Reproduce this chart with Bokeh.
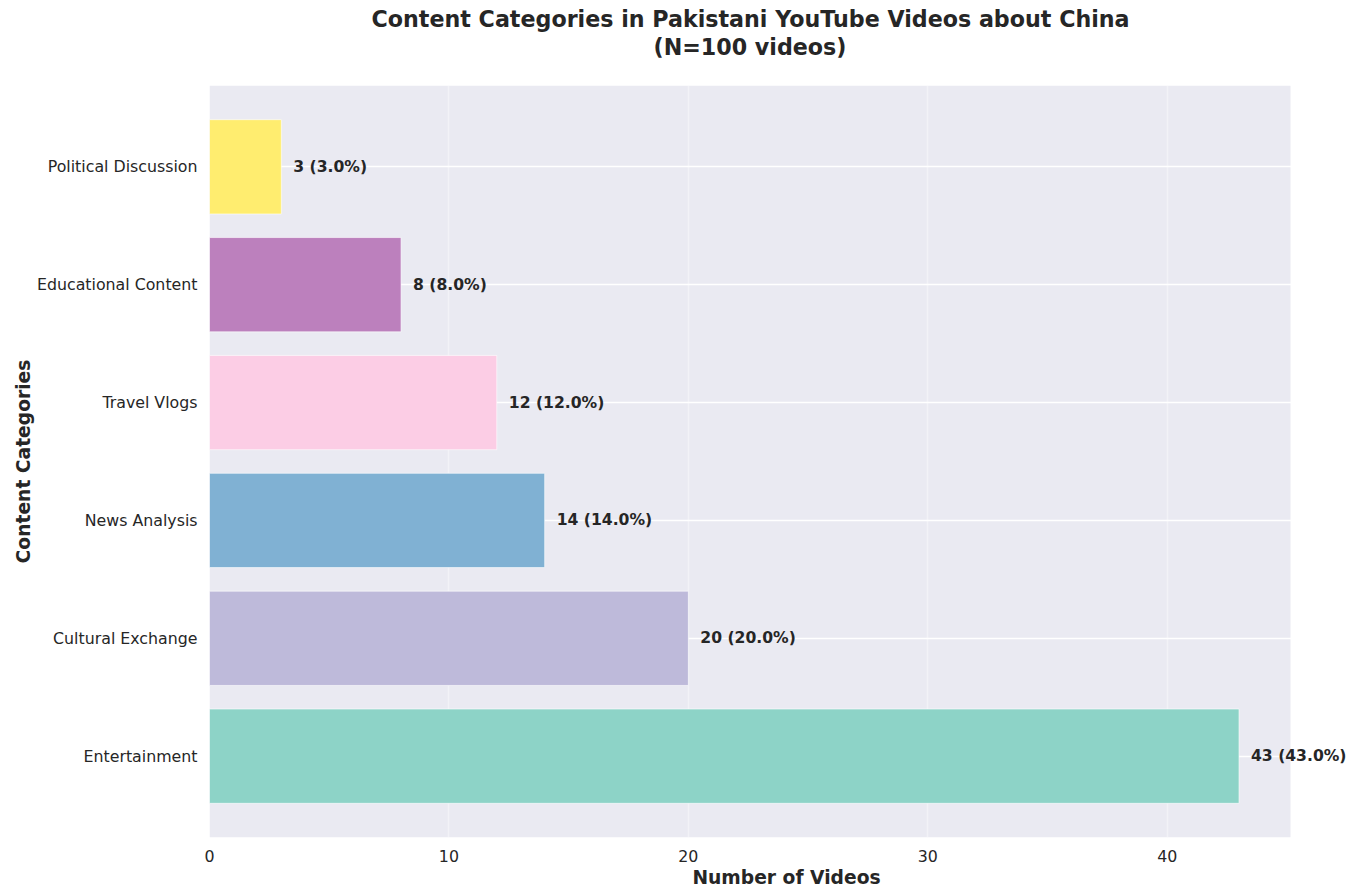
from bokeh.plotting import figure
from bokeh.models import (Range1d, FixedTicker, ColumnDataSource, LabelSet, Title,
                          BoxAnnotation)
from bokeh.embed import file_html
from bokeh.resources import INLINE
from bokeh.core.properties import value

categories = ["Entertainment", "Cultural Exchange", "News Analysis",
              "Travel Vlogs", "Educational Content", "Political Discussion"]
counts = [43, 20, 14, 12, 8, 3]
total_videos = 100
colors = ["#8dd3c7", "#bebada", "#80b1d3", "#fccde5", "#bc80bd", "#ffed6f"]
x_ticks = [0, 10, 20, 30, 40]
title_line1 = "Content Categories in Pakistani YouTube Videos about China"
title_line2 = "(N=100 videos)"

positions = list(range(len(categories)))
labels = [f"{c} ({c / total_videos * 100:.1f}%)" for c in counts]

src = ColumnDataSource(dict(y=positions, right=counts, color=colors, label=labels))

FONT = "DejaVu Sans"
DARK = "#262626"
BG = "#EAEAF2"

W, H = 1363, 890
LEFT, TOP, BOTTOM = 209, 85, 52
AXES_W = 1081                     # width of the shaded axes area
x_max = max(counts) * 1.05        # data limit of the shaded axes area
x_end = x_max * (W - LEFT) / AXES_W   # frame extends to the right so labels are not clipped

p = figure(width=W, height=H,
           x_range=Range1d(0, x_end),
           y_range=Range1d(-0.69, len(categories) - 1 + 0.69),
           output_backend="svg", toolbar_location=None,
           min_border_left=LEFT, min_border_right=0,
           min_border_top=TOP, min_border_bottom=BOTTOM,
           background_fill_color="white", border_fill_color="white",
           outline_line_color=None)

# shaded axes background limited to [0, x_max]
p.add_layout(BoxAnnotation(left=0, right=x_max, fill_color=BG, fill_alpha=1.0,
                           line_color=None, level="image"))

# first title line (outermost)
p.title.text = title_line1
p.title.align = "left"
p.title.offset = 162
p.title.text_font = FONT
p.title.text_font_size = "22.2px"
p.title.text_font_style = "bold"
p.title.text_color = DARK
p.title.standoff = 0

# second title line (closest to the plot)
t2 = Title(text=title_line2, align="left", offset=444, text_font=FONT,
           text_font_size="22.2px", text_font_style="bold", text_color=DARK,
           standoff=0)
try:
    t2.padding = dict(left=0, right=0, top=0, bottom=26)
except Exception:
    t2.standoff = 26
p.add_layout(t2, "above")

p.hbar(y="y", right="right", left=0, height=0.8, fill_color="color",
       line_color="white", line_width=1, line_alpha=0.6, source=src)

p.add_layout(LabelSet(x="right", y="y", text="label", x_offset=12, source=src,
                      text_baseline="middle", text_align="left",
                      text_font=value(FONT), text_font_style="bold",
                      text_font_size="15.6px", text_color=DARK))

p.xaxis.ticker = FixedTicker(ticks=x_ticks)
p.yaxis.ticker = FixedTicker(ticks=positions)
p.yaxis.major_label_overrides = {i: c for i, c in enumerate(categories)}

for ax in (p.xaxis[0], p.yaxis[0]):
    ax.axis_line_color = None
    ax.major_tick_line_color = None
    ax.minor_tick_line_color = None
    ax.major_tick_out = 0
    ax.major_tick_in = 0
    ax.major_label_text_font = FONT
    ax.major_label_text_font_size = "15.8px"
    ax.major_label_text_color = DARK
    ax.axis_label_text_font = FONT
    ax.axis_label_text_font_size = "18.7px"
    ax.axis_label_text_font_style = "bold"
    ax.axis_label_text_color = DARK

p.xaxis.axis_label = "Number of Videos"
p.yaxis.axis_label = "Content Categories"
p.xaxis.major_label_standoff = 12
p.xaxis.axis_label_standoff = 2
p.yaxis.major_label_standoff = 12
p.yaxis.axis_label_standoff = 0

p.ygrid.grid_line_color = "white"
p.ygrid.grid_line_width = 1.5
p.xgrid.grid_line_color = "white"
p.xgrid.grid_line_width = 1.5
p.xgrid.grid_line_alpha = 0.4

open("out.html", "w").write(file_html(p, INLINE))
